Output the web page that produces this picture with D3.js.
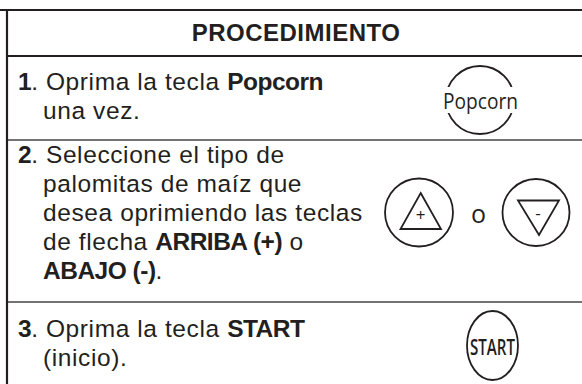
<!DOCTYPE html>
<html><head><meta charset="utf-8">
<script src="https://cdn.jsdelivr.net/npm/d3@7/dist/d3.min.js"></script>
<style>html,body{margin:0;padding:0;background:#fff;}svg{display:block;}</style>
</head><body>
<script>
const title = "PROCEDIMIENTO";
const stepNumbers = ["1", "2", "3"];
const stepLines = [
  [[["1", true], [". Oprima la tecla ", false], ["Popcorn", true]], [["una vez.", false]]],
  [[["2", true], [". Seleccione el tipo de", false]], [["palomitas de maíz que", false]],
   [["desea oprimiendo las teclas", false]], [["de flecha ", false], ["ARRIBA (+)", true], [" o", false]],
   [["ABAJO (-)", true], [".", false]]],
  [[["3", true], [". Oprima la tecla ", false], ["START", true]], [["(inicio).", false]]]
];
const rowEdges = [10, 56, 140, 302, 400];
const buttonLabels = ["Popcorn", "+", "o", "-", "START"];

const W = 582, H = 384, ink = "#231f20";
const svg = d3.select("body").append("svg").attr("width", W).attr("height", H);

svg.append("line").attr("x1", 0).attr("x2", W).attr("y1", rowEdges[0]).attr("y2", rowEdges[0]).attr("stroke", ink).attr("stroke-width", 2.2);
svg.append("line").attr("x1", 7).attr("x2", W).attr("y1", rowEdges[1]).attr("y2", rowEdges[1]).attr("stroke", ink).attr("stroke-width", 2.2);
svg.selectAll("line.sep").data(rowEdges.slice(2, 4)).join("line").attr("class", "sep")
  .attr("x1", 7).attr("x2", W).attr("y1", d => d).attr("y2", d => d).attr("stroke", "#444").attr("stroke-width", 1.6);
svg.append("line").attr("x1", 7).attr("x2", 7).attr("y1", rowEdges[0] - 1).attr("y2", H).attr("stroke", ink).attr("stroke-width", 2.2);

svg.append("text").attr("x", 296).attr("y", 41).attr("text-anchor", "middle")
  .attr("font-family", "Liberation Sans, Arial, sans-serif").attr("font-weight", "bold")
  .attr("font-size", 24).attr("letter-spacing", 0.5).attr("fill", ink).text(title);

const lh = 28.8;
const firstBase = [90, 163.3, 337];
stepLines.forEach((lines, i) => {
  lines.forEach((segs, j) => {
    const t = svg.append("text").attr("x", j === 0 ? 18 : 43).attr("y", firstBase[i] + j * lh)
      .attr("font-family", "Liberation Sans, Arial, sans-serif").attr("font-size", 24.5).attr("fill", ink);
    segs.forEach(s => t.append("tspan").attr("font-weight", s[1] ? "bold" : "normal")
      .attr("letter-spacing", s[1] ? -0.5 : 0.6).text(s[0]));
  });
});

const bf = "Open Sans, Noto Sans, sans-serif";
const pop = svg.append("g");
pop.append("circle").attr("cx", 480).attr("cy", 100).attr("r", 34).attr("fill", "none").attr("stroke", ink).attr("stroke-width", 1.8);
pop.append("rect").attr("x", 436).attr("y", 87).attr("width", 88).attr("height", 26).attr("fill", "#fff");
pop.append("text").attr("x", 443).attr("y", 109).attr("font-family", bf).attr("font-size", 21)
  .attr("textLength", 75).attr("lengthAdjust", "spacingAndGlyphs").attr("fill", ink).text(buttonLabels[0]);

const up = svg.append("g");
up.append("circle").attr("cx", 419).attr("cy", 212.5).attr("r", 34).attr("fill", "none").attr("stroke", ink).attr("stroke-width", 1.8);
up.append("path").attr("d", d3.line()([[420.7, 193], [441, 229], [400.5, 229]]) + "Z").attr("fill", "none").attr("stroke", ink).attr("stroke-width", 1.8);
up.append("text").attr("x", 420.7).attr("y", 221).attr("text-anchor", "middle").attr("font-family", bf).attr("font-size", 17).attr("fill", ink).text(buttonLabels[1]);

svg.append("text").attr("x", 478.5).attr("y", 223).attr("text-anchor", "middle").attr("font-family", bf).attr("font-size", 25).attr("fill", ink).text(buttonLabels[2]);

const dn = svg.append("g");
dn.append("circle").attr("cx", 536).attr("cy", 212.5).attr("r", 33.5).attr("fill", "none").attr("stroke", ink).attr("stroke-width", 1.8);
dn.append("path").attr("d", d3.line()([[518, 200.5], [559, 200.5], [539, 235]]) + "Z").attr("fill", "none").attr("stroke", ink).attr("stroke-width", 1.8);
dn.append("text").attr("x", 538).attr("y", 219).attr("text-anchor", "middle").attr("font-family", bf).attr("font-size", 17).attr("fill", ink).text(buttonLabels[3]);

const st = svg.append("g");
st.append("ellipse").attr("cx", 492.5).attr("cy", 345.5).attr("rx", 25.5).attr("ry", 34.5).attr("fill", "none").attr("stroke", ink).attr("stroke-width", 1.8);
st.append("text").attr("x", 470).attr("y", 355).attr("font-family", bf).attr("font-size", 22).attr("font-weight", 600)
  .attr("textLength", 45).attr("lengthAdjust", "spacingAndGlyphs").attr("fill", ink).text(buttonLabels[4]);
</script>
</body></html>
